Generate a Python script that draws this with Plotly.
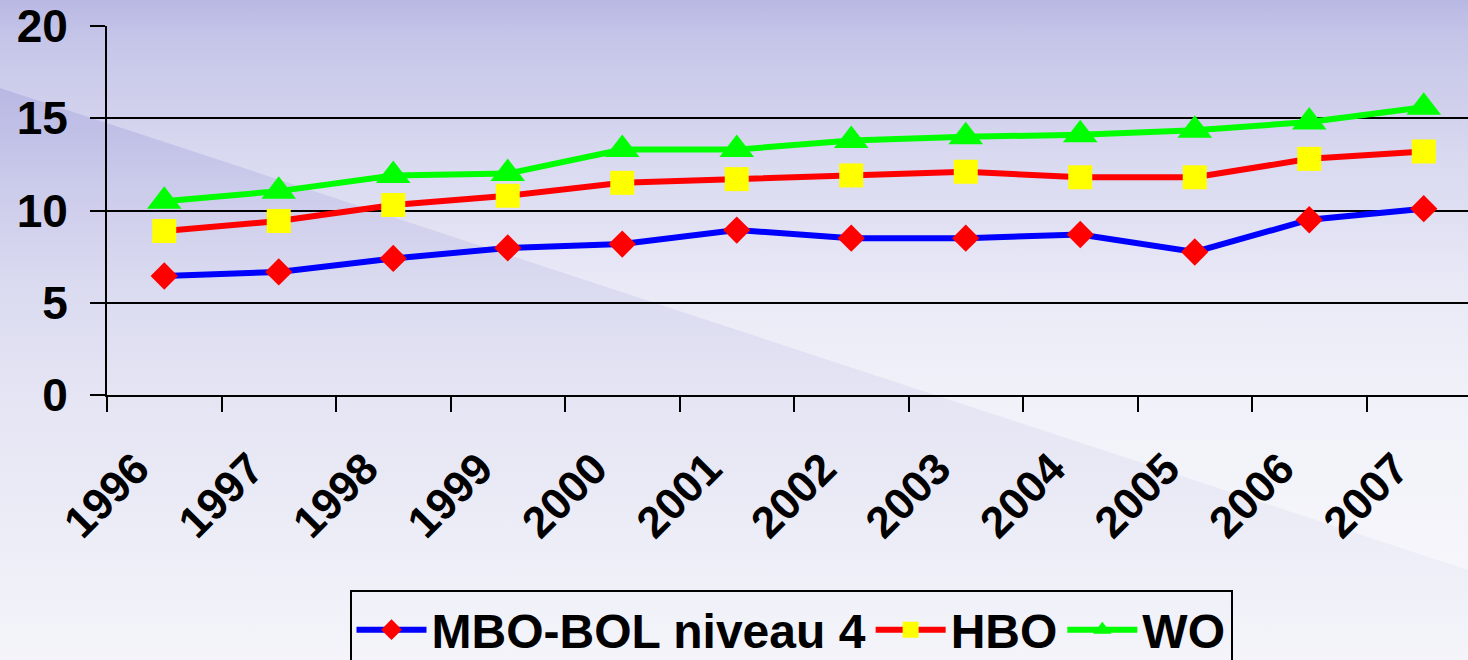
import base64
import plotly.graph_objects as go

years = ["1996", "1997", "1998", "1999", "2000", "2001", "2002", "2003", "2004", "2005", "2006", "2007"]
mbo_bol_4 = [6.45, 6.67, 7.4, 7.97, 8.18, 8.94, 8.5, 8.5, 8.7, 7.75, 9.5, 10.1]
hbo = [8.89, 9.43, 10.3, 10.8, 11.5, 11.7, 11.9, 12.1, 11.8, 11.8, 12.8, 13.2]
wo = [10.5, 11.05, 11.9, 12.0, 13.3, 13.3, 13.8, 14.0, 14.1, 14.35, 14.8, 15.6]
y_ticks = [0, 5, 10, 15, 20]

W, H = 1468, 660
ML, MT, MB, MR = 107, 26, 265, 0
PW, PH = W - ML - MR, H - MT - MB

svg = f'''<svg xmlns="http://www.w3.org/2000/svg" width="{W}" height="{H}" viewBox="0 0 {W} {H}">
<defs>
<linearGradient id="bg" gradientUnits="userSpaceOnUse" x1="0" y1="0" x2="0" y2="{H}">
<stop offset="0" stop-color="rgb(184,184,228)"/>
<stop offset="0.05" stop-color="rgb(196,196,232)"/>
<stop offset="0.23" stop-color="rgb(216,216,240)"/>
<stop offset="0.45" stop-color="rgb(234,234,247)"/>
<stop offset="0.6" stop-color="rgb(241,241,249)"/>
<stop offset="1" stop-color="rgb(248,248,252)"/>
</linearGradient>
<linearGradient id="tri" gradientUnits="userSpaceOnUse" x1="0" y1="88" x2="0" y2="{H}">
<stop offset="0" stop-color="rgb(184,184,228)"/>
<stop offset="0.2" stop-color="rgb(206,206,236)"/>
<stop offset="0.37" stop-color="rgb(220,220,241)"/>
<stop offset="0.55" stop-color="rgb(229,229,244)"/>
<stop offset="1" stop-color="rgb(244,244,250)"/>
</linearGradient>
</defs>
<rect x="0" y="0" width="{W}" height="{H}" fill="url(#bg)"/>
<polygon points="0,88 {W},570 {W},{H} 0,{H}" fill="url(#tri)"/>
</svg>'''
src = "data:image/svg+xml;base64," + base64.b64encode(svg.encode()).decode()

font_family = "Liberation Sans, Arial, sans-serif"

fig = go.Figure()
fig.add_trace(go.Scatter(
    x=years, y=mbo_bol_4, name="MBO-BOL niveau 4", mode="lines+markers",
    line=dict(color="#0000ff", width=6),
    marker=dict(symbol="diamond", color="#ff0000", size=21, line=dict(width=0)),
))
fig.add_trace(go.Scatter(
    x=years, y=hbo, name="HBO", mode="lines+markers",
    line=dict(color="#ff0000", width=6),
    marker=dict(symbol="square", color="#ffff00", size=24, line=dict(width=0)),
))
fig.add_trace(go.Scatter(
    x=years, y=wo, name="WO", mode="lines+markers",
    line=dict(color="#00ff00", width=6),
    marker=dict(symbol="triangle-up", color="#00ff00", size=30, line=dict(width=0)),
))

cat_w = 114.5
span = PW / cat_w

legend_cx = (330 + 1252) / 2

fig.update_layout(
    width=W, height=H,
    margin=dict(l=ML, r=MR, t=MT, b=MB, pad=0, autoexpand=False),
    paper_bgcolor="rgb(246,246,251)",
    plot_bgcolor="rgba(0,0,0,0)",
    font=dict(family=font_family, size=46, color="black", weight="bold"),
    images=[dict(
        source=src, xref="paper", yref="paper",
        x=-ML / PW, y=1 + MT / PH, sizex=W / PW, sizey=H / PH,
        xanchor="left", yanchor="top", sizing="stretch", layer="below",
    )],
    xaxis=dict(
        type="category", range=[-0.5, -0.5 + span],
        showline=True, linecolor="black", linewidth=2,
        ticks="outside", ticklen=15, tickwidth=2, tickcolor="black",
        tickson="boundaries", tickangle=-45,
        tickfont=dict(family=font_family, size=44, color="black", weight="bold"),
        ticklabelstandoff=28, ticklabelshift=-28,
        showgrid=False, zeroline=False, automargin=False,
    ),
    yaxis=dict(
        range=[0, 20], tickvals=y_ticks,
        showline=True, linecolor="black", linewidth=2,
        ticks="outside", ticklen=15, tickwidth=2, tickcolor="black",
        showgrid=True, gridcolor="black", gridwidth=2,
        zeroline=False, automargin=False,
        tickfont=dict(family=font_family, size=46, color="black", weight="bold"),
        ticklabelstandoff=13,
    ),
    legend=dict(
        orientation="h", x=(legend_cx - ML) / PW, y=-(590 - MT - PH) / PH,
        xanchor="center", yanchor="top",
        bgcolor="rgba(0,0,0,0)", bordercolor="black", borderwidth=2,
        font=dict(family=font_family, size=48, color="black", weight="bold"),
        itemwidth=70, tracegroupgap=0,
    ),
    showlegend=True,
)

fig.write_html(
    "out.html",
    config={"displayModeBar": False},
    post_script="document.body.style.margin='0';document.body.style.padding='0';",
)
